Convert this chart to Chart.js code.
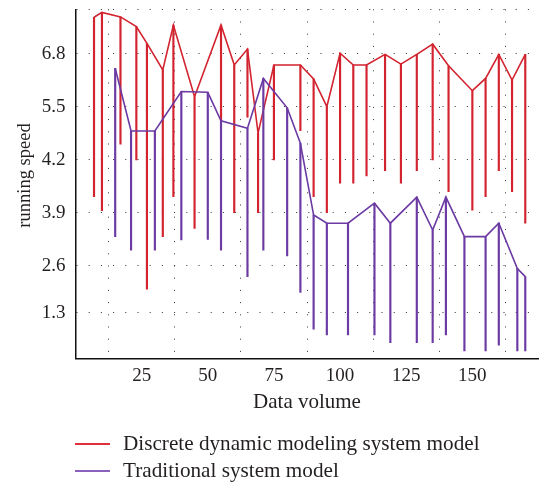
<!DOCTYPE html>
<html><head><meta charset="utf-8">
<script src="https://cdn.jsdelivr.net/npm/chart.js@4.4.0/dist/chart.umd.min.js"></script>
<style>
html,body{margin:0;padding:0;background:#fff;}
#wrap{position:relative;width:539px;height:484px;overflow:hidden;}
#c{position:absolute;left:0;top:0;}
.item{position:absolute;left:0;height:24px;width:539px;font-family:"Liberation Serif",serif;font-size:21.2px;line-height:24px;color:#231f20;white-space:nowrap;}
.item .ln{position:absolute;left:75px;width:35px;top:12px;height:2px;}
.item .tx{position:absolute;left:123px;top:0;}
</style></head>
<body><div id="wrap"><canvas id="c" width="539" height="484"></canvas><div id="legend"></div></div>
<script>
const seriesNames = ['Discrete dynamic modeling system model', 'Traditional system model'];
const seriesColors = ['#d2232f', '#6b3aa3'];
const legendColors = ['#e0303c', '#8a62bd'];

// Discrete dynamic modeling system model
const redX   = [7,10,17,23,27,33,37,45,55,60,65,69,75,85,90,95,100,105,110,117,123,129,135,141,150,155,160,165,170];
const redTop = [8.70,8.82,8.71,8.47,8.06,7.41,8.51,6.75,8.51,7.53,7.92,5.86,7.53,7.53,7.19,6.51,7.82,7.53,7.53,7.79,7.55,7.79,8.04,7.51,6.90,7.20,7.79,7.16,7.79];
const redLow = [4.30,3.96,5.59,5.20,2.03,3.32,4.30,3.52,6.16,3.91,6.25,3.91,5.20,5.92,4.30,3.91,4.63,4.63,4.81,4.94,4.63,4.94,5.20,4.42,3.97,4.30,4.94,4.42,3.65];

// Traditional system model
const purX   = [15,21,30,40,50,55,65,71,80,85,90,95,103,113,119,129,135,140,147,155,160,167,170];
const purTop = [7.45,5.91,5.91,6.88,6.86,6.16,5.98,7.20,6.48,5.61,3.85,3.65,3.65,4.14,3.65,4.29,3.48,4.29,3.32,3.32,3.65,2.54,2.34];
const purLow = [3.32,2.99,2.99,3.24,3.25,2.99,2.34,2.99,2.85,1.95,1.05,0.91,0.91,0.91,0.72,0.72,0.72,0.91,0.52,0.52,0.66,0.52,0.52];

// axis ticks
const xTickValues = [25,50,75,100,125,150,175];
const xTickLabels = ['25','50','75','100','125','150',''];
const yTickValues = [1.45,2.6,3.9,5.2,6.5,7.8,8.896];
const yTickLabels = ['1.3','2.6','3.9','4.2','5.5','6.8',''];
const xTitle = 'Data volume';
const yTitle = 'running speed';

const FONT = '"Liberation Serif", "Times New Roman", serif';
Chart.defaults.font.family = FONT;
Chart.defaults.color = '#231f20';

function drops(xs, lo, hi){ return xs.map((x,i)=>({x:x, y:[lo[i], hi[i]]})); }
function pts(xs, ys){ return xs.map((x,i)=>({x:x, y:ys[i]})); }

const yTitlePlugin = {
  id: 'yTitle',
  afterDraw(chart){
    const ctx = chart.ctx;
    ctx.save();
    ctx.translate(25.5, 175.5);
    ctx.rotate(-Math.PI/2);
    ctx.font = '18.5px ' + FONT;
    ctx.fillStyle = '#231f20';
    ctx.textAlign = 'center';
    ctx.textBaseline = 'middle';
    ctx.fillText(yTitle, 0, 0);
    ctx.restore();
  }
};

const gridDash = [1, 11.2];
new Chart(document.getElementById('c'), {
  type: 'line',
  data: {
    datasets: [
      {type:'bar', label:'d1', data: drops(redX, redLow, redTop), backgroundColor: seriesColors[0], barThickness: 1.5, grouped:false, order: 4},
      {type:'line', label: seriesNames[0], data: pts(redX, redTop), borderColor: seriesColors[0], borderWidth: 1.6, pointRadius: 0, tension: 0, fill:false, order: 3},
      {type:'bar', label:'d2', data: drops(purX, purLow, purTop), backgroundColor: seriesColors[1], barThickness: 1.5, grouped:false, order: 2},
      {type:'line', label: seriesNames[1], data: pts(purX, purTop), borderColor: seriesColors[1], borderWidth: 1.6, pointRadius: 0, tension: 0, fill:false, order: 1}
    ]
  },
  options: {
    responsive: false,
    animation: false,
    devicePixelRatio: 1,
    layout: { padding: { top: 9.3, right: 0.5, left: 0, bottom: 65.7 } },
    plugins: { legend: { display: false }, tooltip: { enabled: false } },
    scales: {
      x: {
        type: 'linear', min: 0, max: 175, offset: false,
        afterFit(s){ s.height = 60; s.paddingLeft = 0; s.paddingRight = 0; },
        afterBuildTicks(s){ s.ticks = xTickValues.map(v=>({value:v})); },
        ticks: { autoSkip:false, maxRotation:0, padding: 6, font:{size:19}, color:'#231f20',
          callback: (v)=>{ const i = xTickValues.indexOf(v); return i>=0 ? xTickLabels[i] : ''; } },
        grid: { color: 'rgba(30,30,30,0.9)', lineWidth: 1, drawTicks: false },
        border: { display: true, color: '#111', width: 1.5, dash: gridDash },
        title: { display: true, text: xTitle, font:{size:21}, color:'#231f20', padding:{top:0,bottom:3} }
      },
      y: {
        type: 'linear', min: 0.336, max: 8.896,
        afterFit(s){ s.width = 75.5; s.paddingTop = 0; s.paddingBottom = 0; },
        afterBuildTicks(s){ s.ticks = yTickValues.map(v=>({value:v})); },
        ticks: { autoSkip:false, padding: 10, font:{size:19}, color:'#231f20',
          callback: (v)=>{ const i = yTickValues.indexOf(v); return i>=0 ? yTickLabels[i] : ''; } },
        grid: { color: 'rgba(30,30,30,0.9)', lineWidth: 1, drawTicks: false },
        border: { display: true, color: '#111', width: 1.5, dash: gridDash }
      }
    }
  },
  plugins: [yTitlePlugin]
});

// HTML legend
const leg = document.getElementById('legend');
const legTops = [431, 458];
seriesNames.forEach((n,i)=>{
  const d = document.createElement('div');
  d.className = 'item';
  d.style.top = legTops[i] + 'px';
  d.innerHTML = '<div class="ln" style="background:'+legendColors[i]+'"></div><span class="tx"></span>';
  d.querySelector('.tx').textContent = n;
  leg.appendChild(d);
});
</script>
</body></html>
